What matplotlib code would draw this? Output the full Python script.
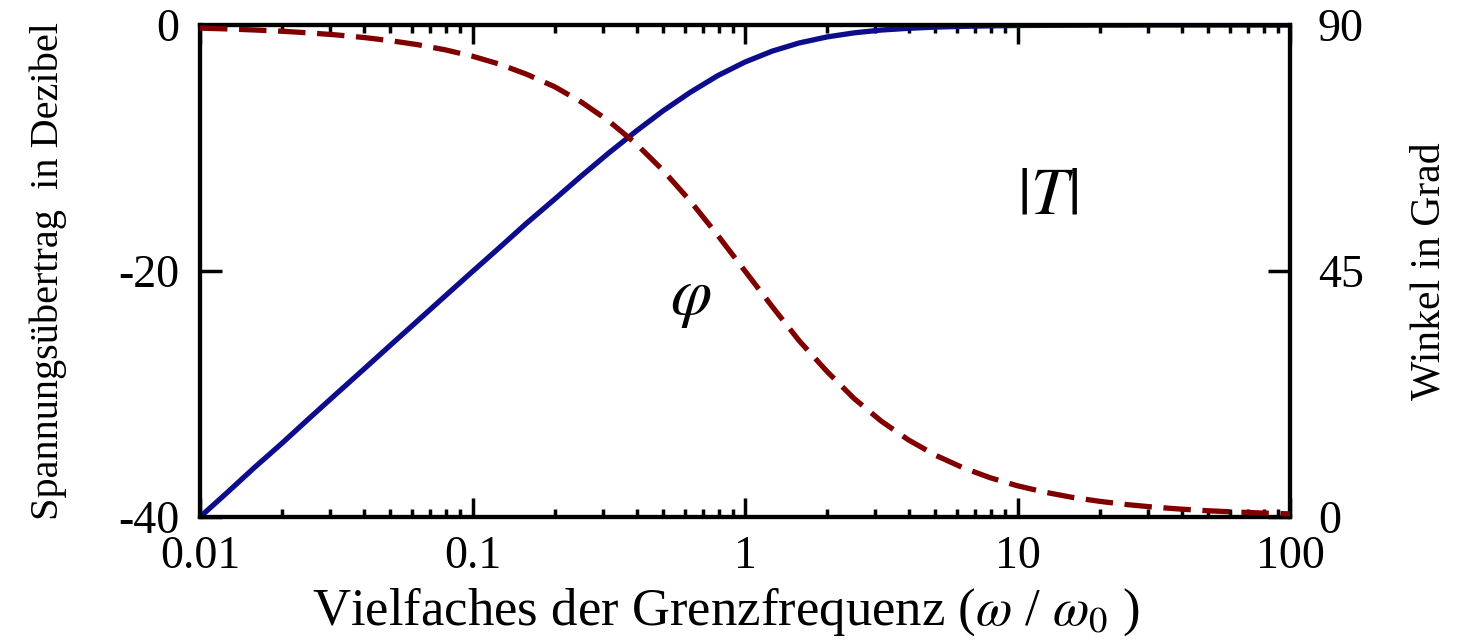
import numpy as np
from matplotlib import pyplot as plt
from matplotlib.ticker import LogLocator, NullFormatter

plt.rcParams['font.family'] = ['Liberation Serif', 'DejaVu Serif']
plt.rcParams['mathtext.fontset'] = 'stix'

# frequency as multiple of the cut-off frequency (10 points per decade)
freq = [0.01, 0.0126, 0.0158, 0.02, 0.0251, 0.0316, 0.0398, 0.0501, 0.0631, 0.0794,
        0.1, 0.126, 0.158, 0.2, 0.251, 0.316, 0.398, 0.501, 0.631, 0.794,
        1, 1.26, 1.58, 2, 2.51, 3.16, 3.98, 5.01, 6.31, 7.94,
        10, 12.6, 15.8, 20, 25.1, 31.6, 39.8, 50.1, 63.1, 79.4, 100]
# |T| in dB
gain_db = [-40.00, -38.00, -36.00, -34.00, -32.00, -30.00, -28.01, -26.01, -24.02, -22.03,
           -20.04, -18.07, -16.11, -14.17, -12.27, -10.41, -8.64, -6.97, -5.46, -4.12,
           -3.01, -2.12, -1.46, -0.97, -0.64, -0.41, -0.27, -0.17, -0.11, -0.07,
           -0.04, -0.03, -0.02, -0.01, -0.01, 0.0, 0.0, 0.0, 0.0, 0.0, 0.0]
# phase in degrees
phase_deg = [89.43, 89.28, 89.09, 88.86, 88.56, 88.19, 87.72, 87.13, 86.39, 85.46,
             84.29, 82.82, 80.99, 78.72, 75.90, 72.45, 68.30, 63.38, 57.75, 51.54,
             45.00, 38.46, 32.25, 26.62, 21.70, 17.55, 14.10, 11.28, 9.01, 7.18,
             5.71, 4.54, 3.61, 2.87, 2.28, 1.81, 1.44, 1.14, 0.91, 0.72, 0.57]

left_ticks = [-40, -20, 0]
right_ticks = [0, 45, 90]
x_ticks = [0.01, 0.1, 1, 10, 100]
x_ticklabels = ['0.01', '0.1', '1', '10', '100']

fig = plt.figure(figsize=(14.75, 6.43), dpi=100)
ax = fig.add_axes([200/1475, 1-517/643, 1090/1475, 492/643])

ax.plot(freq, gain_db, color='#0c0c8c', lw=3.8, zorder=3)
ax.set_xscale('log')
ax.set_xlim(0.01, 100)
ax.set_ylim(-40, 0)
ax.set_xticks(x_ticks)
ax.set_xticklabels(x_ticklabels)
ax.xaxis.set_minor_locator(LogLocator(base=10, subs=np.arange(2, 10)))
ax.xaxis.set_minor_formatter(NullFormatter())
ax.set_yticks(left_ticks)
ax.set_yticklabels([str(t) for t in left_ticks])

ax2 = ax.twinx()
ax2.plot(freq, phase_deg, color='#800000', lw=3.8, dashes=(5.2, 2.2), zorder=3)
ax2.set_ylim(0, 90)
ax2.set_yticks(right_ticks)
ax2.set_yticklabels([str(t) for t in right_ticks])

for a in (ax, ax2):
    for s in a.spines.values():
        s.set_linewidth(3)

ax.tick_params(axis='x', which='major', direction='in', length=14, width=2.5,
               top=True, labelsize=33, pad=13)
ax.tick_params(axis='x', which='minor', direction='in', length=6, width=2.5, top=True)
ax.tick_params(axis='y', direction='in', length=16, width=2.5, labelsize=33, pad=15)
ax2.tick_params(axis='y', direction='in', length=16, width=2.5, labelsize=33, pad=20)

ax.set_xlabel(r'Vielfaches der Grenzfrequenz ($\omega$ / $\omega_{\mathit{0}}$ )',
              fontsize=38, labelpad=4)
ax.xaxis.set_label_coords(0.483, -0.14)
ax.set_ylabel('Spannungsübertrag  in Dezibel', fontsize=29)
ax.yaxis.set_label_coords(-0.122, 0.5)
ax2.set_ylabel('Winkel in Grad', fontsize=30)
ax2.yaxis.set_label_coords(1.11, 0.5)

ax2.text(12.9, 58.5, r'$|T|$', fontsize=48, ha='center', va='center')
ax2.text(0.63, 39.7, r'$\varphi$', fontsize=48, ha='center', va='center')

fig.savefig('out.png', dpi=100)
